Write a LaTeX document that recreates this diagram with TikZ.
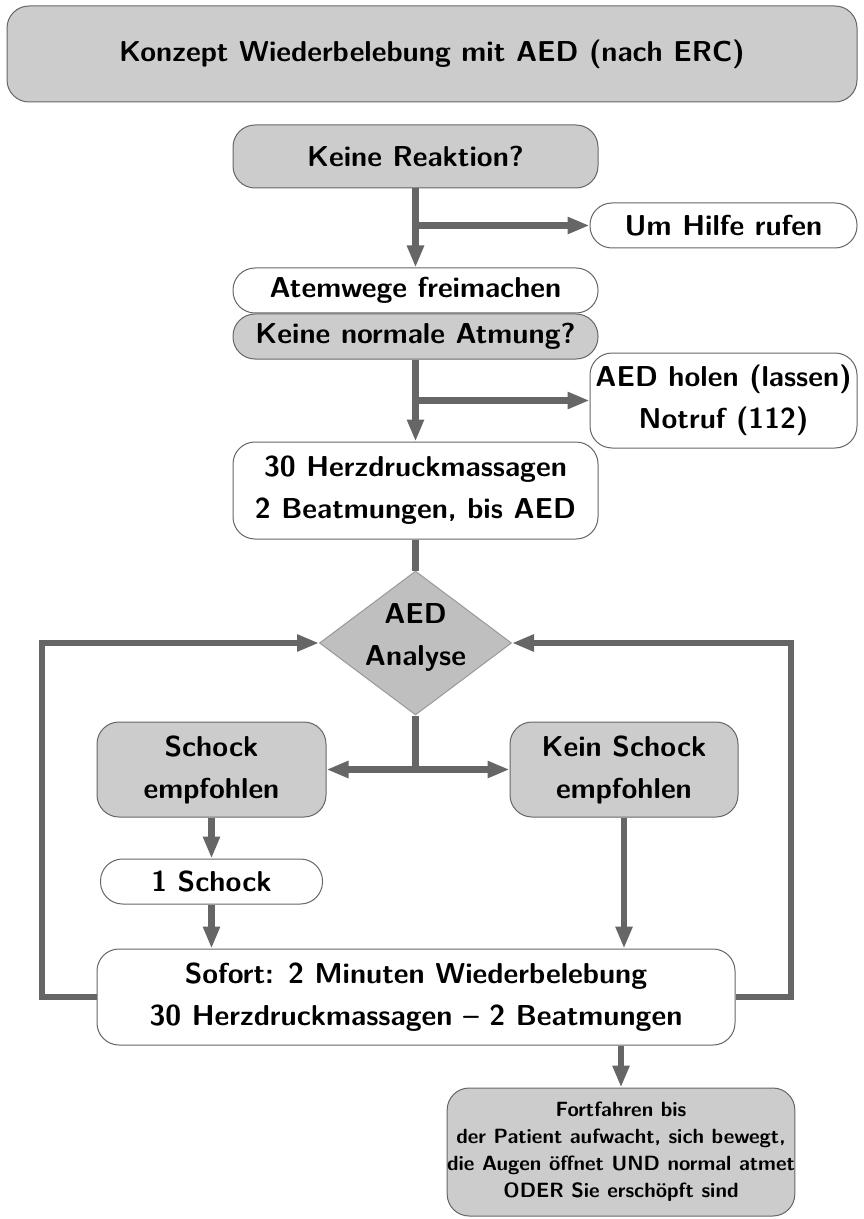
\documentclass[tikz,border=0pt]{standalone}
\usepackage{fontspec}
\usepackage{tikz}
\usetikzlibrary{arrows.meta,positioning,shapes.geometric}
\newcommand{\gross}{\fontsize{14.4}{21}\selectfont\sffamily\bfseries}
\newcommand{\klein}{\fontsize{10.3}{13.5}\selectfont\sffamily\bfseries}

\begin{document}
\begin{tikzpicture}[x=0.5pt,y=-0.5pt,
  >={Triangle[length=11pt,width=8pt]},
  box/.style={draw=black!60,line width=0.5pt,rounded corners=11pt,
               inner sep=0pt,align=center,font=\gross},
  grau/.style={box,fill=black!20},
  weiss/.style={box,fill=white},
  raute/.style={diamond,draw=black!40,line width=0.5pt,fill=black!25,
               aspect=1.333,inner sep=0pt,font=\gross},
  arr/.style={->,line width=3.3pt,draw=black!60},
  lin/.style={line width=3.3pt,draw=black!60}]
  \useasboundingbox (0,0) rectangle (863,1219);
  % Kopf
  \node[grau,minimum width=425pt,minimum height=48pt] (titel) at (432,54)
    {Konzept Wiederbelebung mit AED (nach ERC)};
  % Hauptspalte
  \node[grau,minimum width=182.5pt,minimum height=31.5pt] (reakt) at (415.5,156.5)
    {Keine Reaktion?};
  \node[weiss,minimum width=182.5pt,minimum height=22.5pt,below=39.5pt of reakt] (atem)
    {Atemwege freimachen};
  \node[grau,minimum width=182.5pt,minimum height=22.5pt,below=0pt of atem] (atmung)
    {Keine normale Atmung?};
  \node[weiss,minimum width=182.5pt,minimum height=48.5pt,below=41pt of atmung] (herz)
    {30 Herzdruckmassagen\\2 Beatmungen, bis AED};
  \node[raute,minimum width=96pt,minimum height=72pt] (aed) at (415.5,643)
    {\smash{\begin{tabular}{@{}c@{}}AED\\Analyse\end{tabular}}};
  % Seitenkaesten
  \node[weiss,minimum width=133.5pt,minimum height=22.5pt] (hilfe) at (723.5,225.5)
    {Um Hilfe rufen};
  \node[weiss,minimum width=133.5pt,minimum height=47.5pt] (holen) at (723.5,400.5)
    {AED holen (lassen)\\Notruf (112)};
  % Verzweigung
  \node[grau,minimum width=114.5pt,minimum height=47.5pt] (schock) at (211.5,769.5)
    {Schock\\empfohlen};
  \node[grau,minimum width=114pt,minimum height=47.5pt] (kein) at (624,769.5)
    {Kein Schock\\empfohlen};
  \node[weiss,minimum width=111pt,minimum height=22.5pt,below=20.5pt of schock] (eins)
    {1 Schock};
  \node[weiss,minimum width=319pt,minimum height=48pt] (sofort) at (416,997)
    {Sofort: 2 Minuten Wiederbelebung\\30 Herzdruckmassagen – 2 Beatmungen};
  \node[grau,minimum width=173pt,minimum height=64pt,font=\klein] (weiter) at (621,1152)
    {Fortfahren bis\\der Patient aufwacht, sich bewegt,\\die Augen öffnet UND normal atmet\\ODER Sie erschöpft sind};
  \coordinate (lx) at (42,643);
  \coordinate (rx) at (791,643);

  \draw[arr] (reakt) -- (atem);
  \draw[arr] (reakt.south |- hilfe.west) -- (hilfe.west);
  \draw[arr] (atmung) -- (herz);
  \draw[arr] (atmung.south |- holen.west) -- (holen.west);
  \draw[lin] (herz) -- (aed);
  \draw[lin] (aed.south) -- ([yshift=2pt]aed.south |- schock.east);
  \draw[arr,<->] (schock.east) -- (kein.west);
  \draw[arr] (schock) -- (eins);
  \draw[arr] (eins.south) -- (eins.south |- sofort.north);
  \draw[arr] (kein.south) -- (kein.south |- sofort.north);
  \draw[arr] (weiter.north |- sofort.south) -- (weiter.north);
  % Schleifen zur Analyse
  \draw[arr] (sofort.west) -| (lx) -- (aed.west);
  \draw[arr] (sofort.east) -| (rx) -- (aed.east);
\end{tikzpicture}
\end{document}
